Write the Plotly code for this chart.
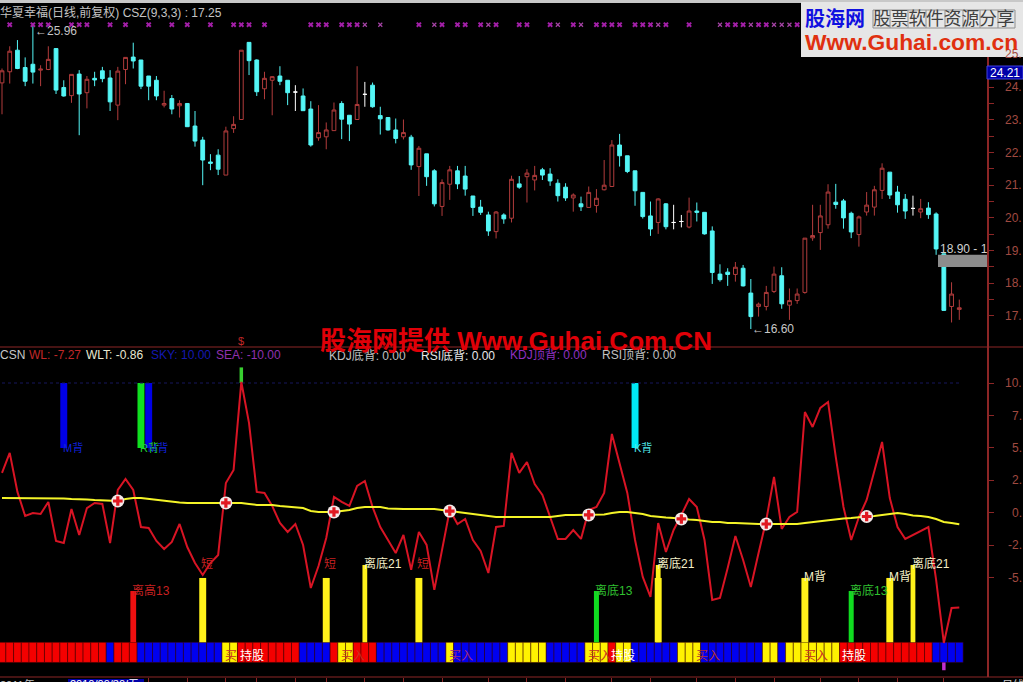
import plotly.graph_objects as go

W, H = 1023, 682
FONT = "Liberation Sans, Arial, Noto Sans CJK SC"

# ---- Price panel data (daily candles, one row per bar) ----
OPEN = [24.13,24.47,25.13,24.60,24.70,24.52,24.54,25.18,23.99,23.74,24.40,23.83,24.27,24.50,24.28,23.45,24.54,24.92,24.83,24.34,24.21,23.45,23.65,23.43,23.50,
22.81,22.38,21.71,21.92,21.31,22.73,23.01,25.37,24.83,23.95,24.21,24.34,24.21,23.85,23.73,23.33,22.45,22.48,22.67,23.50,23.14,23.01,23.78,24.06,23.13,
23.07,22.69,22.48,22.47,21.57,21.96,21.44,20.35,21.03,21.44,21.28,20.67,20.33,20.09,19.58,20.09,19.99,21.04,21.26,21.16,21.47,21.34,21.06,20.94,20.61,
20.43,20.32,20.38,20.86,20.96,22.23,21.90,21.44,20.78,20.06,19.86,20.43,19.86,19.89,19.72,20.21,20.17,19.60,18.28,18.34,18.27,18.46,17.70,17.29,17.29,
17.75,18.23,17.33,17.47,17.72,19.39,19.55,19.79,20.48,20.52,20.14,19.49,20.18,20.33,20.84,21.40,20.79,20.57,20.29,20.18,20.30,20.12,18.90,17.29,17.20]
HIGH = [24.57,25.25,25.44,24.91,25.96,24.67,25.25,25.18,24.21,24.39,24.52,24.34,24.47,24.62,24.52,24.62,24.91,25.36,24.83,24.34,24.34,23.89,23.76,23.60,23.50,
23.27,22.48,21.95,22.10,22.79,23.11,25.13,25.37,24.85,24.47,24.34,24.64,24.21,24.06,23.96,23.57,23.45,22.92,23.53,23.57,23.14,24.64,24.16,24.14,23.40,
23.07,23.04,23.01,22.54,22.20,21.96,21.49,21.18,21.59,21.59,21.59,20.67,20.55,20.19,20.21,20.14,21.29,21.28,21.49,21.59,21.53,21.52,21.18,21.06,20.75,
20.65,20.96,20.88,21.77,22.38,22.57,21.90,21.44,20.78,20.50,20.60,20.45,20.40,20.09,20.62,20.47,20.17,19.74,18.58,18.46,18.65,18.56,18.13,17.41,17.92,
18.51,18.49,17.84,17.84,19.38,20.40,20.40,21.03,21.04,20.58,20.19,20.07,20.79,20.98,21.67,21.40,20.98,20.73,20.68,20.58,20.48,20.17,18.90,18.03,17.50]
LOW = [23.17,24.11,24.55,24.03,24.11,24.03,24.52,23.79,23.71,23.52,22.53,23.35,24.03,24.15,23.27,22.99,24.09,24.57,23.94,23.60,23.60,23.38,23.17,23.07,22.79,
22.18,21.00,21.46,21.31,21.31,22.60,23.01,24.37,23.73,23.63,23.14,24.06,23.45,23.27,23.28,22.18,22.36,22.10,22.67,22.41,22.35,23.01,23.40,23.37,22.55,
22.67,22.28,22.40,21.47,20.67,20.98,20.35,20.06,20.55,20.88,20.68,20.06,20.09,19.45,19.37,19.82,19.86,20.89,20.47,20.84,21.16,20.98,20.50,20.52,20.19,
20.21,20.32,20.16,20.84,20.96,21.57,21.37,20.37,19.98,19.45,19.51,19.65,19.65,19.71,19.68,19.89,19.49,17.98,18.05,17.92,18.05,17.90,16.60,16.98,17.17,
17.70,17.22,16.88,17.37,17.68,19.30,19.02,19.67,20.28,19.67,19.38,19.12,20.07,20.07,20.58,20.58,20.16,19.97,20.07,19.99,19.97,18.87,17.17,16.80,16.88]
CLOSE = [24.50,25.10,24.57,24.18,24.46,24.55,24.85,23.91,23.73,24.39,23.79,24.24,24.22,24.26,23.55,24.49,24.91,24.80,24.03,24.03,23.73,23.50,23.33,23.50,22.79,
22.35,21.77,21.67,21.49,22.66,22.86,25.13,24.81,23.86,24.27,24.32,24.18,23.83,23.85,23.28,22.23,22.61,22.69,23.30,23.02,22.87,23.47,23.78,23.40,23.03,
22.69,22.43,22.61,21.62,22.13,21.26,20.43,21.08,21.47,21.04,20.88,20.32,20.17,19.60,20.18,19.97,21.18,20.94,21.37,21.30,21.31,21.13,20.68,20.61,20.70,
20.34,20.78,20.60,21.00,22.23,21.90,21.42,20.83,20.04,19.66,20.58,19.73,19.86,19.89,20.21,20.17,19.51,18.33,18.11,18.27,18.49,17.92,16.98,17.36,17.72,
18.28,17.37,17.47,17.67,19.38,19.46,20.06,20.79,20.41,20.00,19.57,20.03,20.39,20.86,21.52,20.70,20.40,20.21,20.29,20.28,20.10,19.05,17.17,17.67,17.25]
WHITE_DOJI = [38, 47, 87, 88, 118]
STAR_BIG = [1,4,5,6,9,10,11,14,16,19,22,24,27,30,31,32,34,40,41,42,44,45,46,54,57,59,60,62,64,67,68,71,74,77,78,79,80,82,83,84,86,89,94,95,96,98,99,103]
STAR_SMALL = [47,49,56,63,72,75,85,93,97,100,101,102,104]
STAR_LEVEL = 25.91
PRICE_TICKS = [17,18,19,20,21,22,23,24,25]

# ---- Indicator panel data ----
WL = [3.08,4.62,1.62,-0.23,0.00,-0.08,0.85,-2.15,-2.31,0.31,-1.69,0.38,0.77,0.69,-2.31,1.77,2.62,1.77,-1.08,-1.15,-2.15,-2.77,-2.23,-0.85,-2.62,
-3.85,-4.77,-3.85,-3.23,2.31,3.31,10.08,6.92,1.62,1.54,0.54,-0.77,-1.46,-0.85,-2.46,-5.77,-4.08,-1.92,1.23,0.85,0.54,2.08,2.46,0.46,-1.08,
-2.08,-3.08,-1.69,-4.38,-1.46,-2.46,-5.92,-2.69,0.23,-0.85,-0.46,-2.08,-2.92,-4.62,-1.08,-1.00,4.62,3.08,3.92,2.23,1.38,-0.31,-2.00,-2.00,-1.31,
-2.00,0.23,0.46,1.54,6.08,3.85,1.54,-2.08,-4.92,-6.46,-0.77,-3.00,-1.31,-0.15,1.08,0.46,-2.08,-6.69,-6.54,-4.23,-1.77,-3.62,-5.69,-3.08,-0.54,
2.77,-1.23,-0.31,0.08,7.77,6.62,8.08,8.54,4.31,0.46,-2.08,-0.31,1.00,3.31,5.46,1.15,-1.08,-2.00,-1.69,-1.38,-1.08,-5.15,-10.00,-7.31,-7.27]
WLT = [1.15,1.15,1.15,1.15,1.15,1.15,1.15,1.15,1.12,1.08,1.08,1.04,1.00,0.96,0.92,0.92,1.08,1.15,1.15,1.08,1.00,0.92,0.85,0.81,0.77,
0.77,0.77,0.77,0.77,0.77,0.77,0.77,0.69,0.62,0.62,0.62,0.54,0.50,0.46,0.38,0.15,0.08,0.08,0.08,0.15,0.23,0.38,0.46,0.46,0.46,
0.35,0.31,0.31,0.31,0.31,0.31,0.31,0.23,0.15,0.08,-0.04,-0.08,-0.19,-0.27,-0.31,-0.31,-0.31,-0.31,-0.31,-0.31,-0.31,-0.31,-0.23,-0.15,-0.15,
-0.15,-0.15,-0.15,-0.12,0.00,0.08,0.08,0.00,-0.08,-0.23,-0.31,-0.35,-0.38,-0.46,-0.50,-0.54,-0.62,-0.69,-0.69,-0.77,-0.77,-0.81,-0.85,-0.85,-0.85,
-0.85,-0.85,-0.85,-0.85,-0.77,-0.69,-0.62,-0.58,-0.46,-0.42,-0.38,-0.35,-0.27,-0.23,-0.15,-0.08,0.00,-0.08,-0.19,-0.23,-0.31,-0.46,-0.69,-0.77,-0.86]
SKY = [10.0] * 125
CROSS_BARS = [15, 29, 43, 58, 76, 88, 99, 112]
INDICATOR_TICKS = [10, 7.5, 5, 2.5, 0, -2.5, -5]
INDICATOR_TEXT = ["10.", "7.", "5.", "2.", "0.", "-2.", "-5."]

# state strip, one letter per bar: R red, B blue, Y yellow
STATE = "RRRRRRRRRRRRRRBRRRBBBBBBBBBBBYYRRRRRRRRBBBBRYYRRRBBBBBBBBBYBBBBBBBYYYYYBBBBBYYYRYYBBBBBBYYYBBBBBBBBYYBYYYYYYYRRRRRRRRRRRRBBBB"
STATE_COLOR = {"R": "#f40000", "B": "#0000f0", "Y": "#fff200"}
STRIP_TOP, STRIP_SIZE = -9.95, -1.55

# divergence sticks: bar, low value, high value
TOP_BLUE = [8, 19]
TOP_GREEN = [18]
TOP_CYAN = [82]
TOP_LOW, TOP_HIGH = 5.0, 10.0
YELLOW_WIDE = [26, 42, 54, 85, 104, 115]
YELLOW_WIDE_TOP = -5.0
YELLOW_NARROW = [47, 85, 118]
YELLOW_NARROW_TOP = -4.0
GREEN_SHORT = [77, 110]
RED_SHORT = [17]
SHORT_TOP = -6.0
SPIKE_BAR, SPIKE_TOP = 31, 11.2
DROP_BAR, DROP_LOW = 122, -12.1

AXIS_TICKS_X = [19,24,29,33,38,42,47,52,57,63,68,73,79,84,90,95,100,106,111,116,122]

RED_AX = "#8c2626"
TICK_TXT = "#a04a40"
x = list(range(len(OPEN)))
XR = [-0.259, 127.59]
DOM_X = [0, 987 / W]


def py(p):
    return 1 - p / H


fig = go.Figure()

# candles
mask = [i for i in x if i not in WHITE_DOJI]
fig.add_trace(go.Candlestick(
    x=mask, open=[OPEN[i] for i in mask], high=[HIGH[i] for i in mask],
    low=[LOW[i] for i in mask], close=[CLOSE[i] for i in mask],
    increasing=dict(line=dict(color="#b23c3c", width=1), fillcolor="#000000"),
    decreasing=dict(line=dict(color="#54f6f6", width=1), fillcolor="#54f6f6"),
    whiskerwidth=0, xaxis="x", yaxis="y", showlegend=False))
fig.add_trace(go.Candlestick(
    x=WHITE_DOJI, open=[OPEN[i] for i in WHITE_DOJI], high=[HIGH[i] for i in WHITE_DOJI],
    low=[LOW[i] for i in WHITE_DOJI], close=[CLOSE[i] for i in WHITE_DOJI],
    increasing=dict(line=dict(color="#ffffff", width=1), fillcolor="#ffffff"),
    decreasing=dict(line=dict(color="#ffffff", width=1), fillcolor="#ffffff"),
    whiskerwidth=0, xaxis="x", yaxis="y", showlegend=False))

# purple stars
fig.add_trace(go.Scatter(x=STAR_BIG, y=[STAR_LEVEL] * len(STAR_BIG), mode="markers", xaxis="x", yaxis="y",
                         marker=dict(symbol="x", size=5, color="#a31fa8", line=dict(width=0)), showlegend=False))
fig.add_trace(go.Scatter(x=STAR_SMALL, y=[STAR_LEVEL] * len(STAR_SMALL), mode="markers", xaxis="x", yaxis="y",
                         marker=dict(symbol="x-thin", size=4, line=dict(color="#a844a8", width=1.2)), showlegend=False))


def bars(xs, base, top, color, width):
    fig.add_trace(go.Bar(x=xs, y=[top - base] * len(xs), base=base, width=width, marker=dict(color=color, line=dict(width=0)),
                         xaxis="x2", yaxis="y2", showlegend=False))


# state strip
fig.add_trace(go.Bar(x=x, y=[STRIP_SIZE] * len(x), base=STRIP_TOP, width=1,
                     marker=dict(color=[STATE_COLOR[c] for c in STATE], line=dict(color="#3a0000", width=0.5)),
                     xaxis="x2", yaxis="y2", showlegend=False))
# sticks
bars(TOP_BLUE, TOP_LOW, TOP_HIGH, "#0000e6", 0.9)
bars(TOP_GREEN, TOP_LOW, TOP_HIGH, "#10e020", 0.9)
bars(TOP_CYAN, TOP_LOW, TOP_HIGH, "#00e8f4", 0.9)
bars(YELLOW_WIDE, STRIP_TOP, YELLOW_WIDE_TOP, "#fff21a", 0.9)
bars(YELLOW_NARROW, STRIP_TOP, YELLOW_NARROW_TOP, "#fff21a", 0.62)
bars(GREEN_SHORT, STRIP_TOP, SHORT_TOP, "#10dc20", 0.65)
bars(RED_SHORT, STRIP_TOP, SHORT_TOP, "#f01010", 0.75)
bars([SPIKE_BAR], TOP_HIGH, SPIKE_TOP, "#38d030", 0.45)
bars([DROP_BAR], STRIP_TOP + STRIP_SIZE, DROP_LOW, "#c030d0", 0.45)

# SKY dotted level
fig.add_trace(go.Scatter(x=x, y=SKY, mode="lines", line=dict(color="#16165c", width=1, dash="dot"),
                         xaxis="x2", yaxis="y2", showlegend=False))
# WL and WLT lines
fig.add_trace(go.Scatter(x=x, y=WL, mode="lines", line=dict(color="#d81424", width=2),
                         xaxis="x2", yaxis="y2", showlegend=False))
fig.add_trace(go.Scatter(x=x, y=WLT, mode="lines", line=dict(color="#f4f428", width=2),
                         xaxis="x2", yaxis="y2", showlegend=False))
# cross markers
cy = [WLT[i] for i in CROSS_BARS]
fig.add_trace(go.Scatter(x=CROSS_BARS, y=cy, mode="markers", marker=dict(symbol="circle", size=13, color="#f4e8e8"),
                         xaxis="x2", yaxis="y2", showlegend=False))
fig.add_trace(go.Scatter(x=CROSS_BARS, y=cy, mode="markers", marker=dict(symbol="cross", size=8, color="#e01820"),
                         xaxis="x2", yaxis="y2", showlegend=False))

annotations = []


def text(px, pyy, s, color, size=12, anchor="left", bold=False, family=FONT):
    annotations.append(dict(xref="paper", yref="paper", x=px / W, y=py(pyy), text=("<b>%s</b>" % s) if bold else s,
                            showarrow=False, xanchor=anchor, yanchor="middle", align=anchor,
                            font=dict(color=color, size=size, family=family), borderpad=0, borderwidth=0))


def tag(bar, value, s, color, size=12, dx=0):
    annotations.append(dict(xref="x2", yref="y2", x=bar, y=value, text=s, showarrow=False, xanchor="left", yanchor="middle",
                            xshift=dx, font=dict(color=color, size=size, family=FONT), borderpad=0))


# headers
text(0, 13, "华夏幸福(日线,前复权) CSZ(9,3,3) : 17.25", "#c4c4c4", 12)
text(0, 355, "CSN", "#c8c8c8", 12)
text(29, 355, "WL: -7.27", "#c02828", 12)
text(86, 355, "WLT: -0.86", "#e8e8d0", 12)
text(151, 355, "SKY: 10.00", "#1418b0", 12)
text(216, 355, "SEA: -10.00", "#9030b0", 12)
text(329, 355, "KDJ底背: 0.00", "#c0c0c0", 12)
text(421, 355, "RSI底背: 0.00", "#e8e8e8", 12)
text(510, 355, "KDJ顶背: 0.00", "#9030c0", 12)
text(602, 355, "RSI顶背: 0.00", "#c0c0c0", 12)

# price callouts
annotations.append(dict(xref="x", yref="y", x=4, y=HIGH[4], text="←25.96", showarrow=False, xanchor="left", yanchor="top", xshift=1,
                        font=dict(color="#c4c4c4", size=12, family=FONT), borderpad=0))
annotations.append(dict(xref="x", yref="y", x=97, y=LOW[97], text="←16.60", showarrow=False, xanchor="left", yanchor="middle",
                        font=dict(color="#c8c8c8", size=12, family=FONT), borderpad=0))
annotations.append(dict(xref="x", yref="y", x=122, y=19.05, text="18.90 - 1", showarrow=False, xanchor="left", yanchor="middle", xshift=-5,
                        font=dict(color="#d0d0d0", size=12, family=FONT), borderpad=0))

# axis labels (clipped look of the source)
for v in PRICE_TICKS:
    annotations.append(dict(xref="paper", yref="y", x=1, y=v, text="%d." % v, showarrow=False, xanchor="right", yanchor="middle",
                            font=dict(color=TICK_TXT, size=12, family=FONT), borderpad=0))
for v, s in zip(INDICATOR_TICKS, INDICATOR_TEXT):
    annotations.append(dict(xref="paper", yref="y2", x=1, y=v, text=s, showarrow=False, xanchor="right", yanchor="middle",
                            font=dict(color=TICK_TXT, size=12, family=FONT), borderpad=0))
text(990, 73, "24.21", "#ffffff", 12)

# stick labels
tag(8, 5, "M背", "#1020d8", 11, -2)
tag(18, 5, "R背", "#20d030", 11, -2)
tag(19, 5, "M背", "#1020d8", 11, -2)
tag(82, 5, "K背", "#50e8e8", 11, -2)
tag(17, -6, "离高13", "#c82020", 12, -2)
tag(77, -6, "离底13", "#30c030", 12, -2)
tag(110, -6, "离底13", "#30c030", 12, -2)
tag(47, -3.9, "离底21", "#f4f0c8", 12, -2)
tag(85, -3.9, "离底21", "#f4f0c8", 12, -2)
tag(118, -3.9, "离底21", "#f4f0c8", 12, -2)
tag(26, -3.9, "短", "#c82020", 12, -3)
tag(42, -3.9, "短", "#c82020", 12, -3)
tag(54, -3.9, "短", "#c82020", 12, -3)
tag(104, -4.9, "M背", "#f4f0c8", 12, -2)
tag(115, -4.9, "M背", "#f4f0c8", 12, -2)

# strip labels
for bar, s, c in [(29, "买", "#c83020"), (31, "持股", "#ffffff"), (44, "买入", "#c83020"), (58, "买入", "#a02880"),
                  (76, "买入", "#c83020"), (79, "持股", "#ffffff"), (90, "买入", "#b03030"), (104, "买入", "#c83020"),
                  (109, "持股", "#ffffff")]:
    tag(bar, -11.0, s, c, 12, -2)

# watermarks
text(320, 341, "股海网提供 Www.Guhai.Com.CN", "#e00008", 26, bold=True)
text(238, 341, "$", "#c02828", 11)
text(805, 19, "股海网", "#1010e0", 20, bold=True)
text(873, 19, "股票软件资源分享", "#404040", 17.7)
text(805, 42, "Www.Guhai.com.cn", "#e03010", 22.8, bold=True)

# bottom clipped labels
text(70, 684, "2010/09/30/五", "#ffffff", 11)
text(0, 684, "2011年", "#c0c0c0", 11)
text(1002, 684, "日线", "#c8c8c8", 11)
for px_, s in [(233, "11"), (366, "12"), (535, "3"), (860, "5")]:
    text(px_, 686, s, "#c0c0c0", 11)

shapes = [
    # top strip
    dict(type="rect", xref="paper", yref="paper", x0=0, x1=1, y0=py(3), y1=1, fillcolor="#c8c8c8", line=dict(width=0), layer="above"),
    # watermark box
    dict(type="rect", xref="paper", yref="paper", x0=801 / W, x1=1, y0=py(57), y1=py(2), fillcolor="#e6e6e6", line=dict(width=0), layer="above"),
    # price box
    dict(type="rect", xref="paper", yref="paper", x0=987 / W, x1=1, y0=py(79), y1=py(66), fillcolor="#0000a8", line=dict(color="#4040e0", width=1), layer="above"),
    # dividers extended to the right edge
    dict(type="line", xref="paper", yref="paper", x0=0, x1=1, y0=py(347), y1=py(347), line=dict(color=RED_AX, width=1), layer="above"),
    dict(type="line", xref="paper", yref="paper", x0=0, x1=1, y0=py(677), y1=py(677), line=dict(color=RED_AX, width=1), layer="above"),
    # current range box in the price panel
    dict(type="rect", xref="paper", yref="y", x0=938 / W, x1=987 / W, y0=18.50, y1=18.87, fillcolor="#8c8c8c", line=dict(width=0), layer="above"),
    # date box
    dict(type="rect", xref="paper", yref="paper", x0=68 / W, x1=144 / W, y0=0, y1=py(679), fillcolor="#0000a8", line=dict(width=0), layer="below"),
]
for gx in [873, 890, 908, 926, 945, 963, 980, 998, 1015]:
    shapes.append(dict(type="line", xref="paper", yref="paper", x0=gx / W, x1=gx / W, y0=py(28), y1=py(10), line=dict(color="#909090", width=1), layer="above"))
for gy in [10, 28]:
    shapes.append(dict(type="line", xref="paper", yref="paper", x0=873 / W, x1=1015 / W, y0=py(gy), y1=py(gy), line=dict(color="#909090", width=1), layer="above"))

fig.update_layout(
    width=W, height=H, autosize=False, margin=dict(l=0, r=0, t=0, b=0, pad=0),
    paper_bgcolor="#000000", plot_bgcolor="#000000", barmode="overlay", showlegend=False,
    font=dict(family=FONT, color="#c8c8c8", size=12), hovermode=False,
    annotations=annotations, shapes=shapes,
    xaxis=dict(domain=DOM_X, range=XR, showgrid=False, zeroline=False, showticklabels=False, ticks="", rangeslider=dict(visible=False), anchor="y", showline=False),
    yaxis=dict(domain=[1 - 347 / H, 1 - 10 / H], range=[16.05, 26.36], side="right", anchor="x", showgrid=False, zeroline=False,
               showline=True, linecolor=RED_AX, linewidth=2, showticklabels=False, ticks="outside", ticklen=5, tickcolor=RED_AX,
               tickvals=[17 + 0.5 * k for k in range(17)]),
    xaxis2=dict(domain=DOM_X, range=XR, showgrid=False, zeroline=False, showticklabels=False, anchor="y2", showline=False,
                ticks="outside", ticklen=5, tickcolor=RED_AX, tickvals=AXIS_TICKS_X),
    yaxis2=dict(domain=[1 - 677 / H, 1 - 347 / H], range=[-12.62, 12.77], side="right", anchor="x2", showgrid=False, zeroline=False,
                showline=True, linecolor=RED_AX, linewidth=2, showticklabels=False, ticks="outside", ticklen=5, tickcolor=RED_AX,
                tickvals=INDICATOR_TICKS),
)

fig.write_html("out.html", config=dict(displayModeBar=False),
               post_script="document.body.style.margin='0';document.body.style.background='#000';document.documentElement.style.overflow='hidden';")
